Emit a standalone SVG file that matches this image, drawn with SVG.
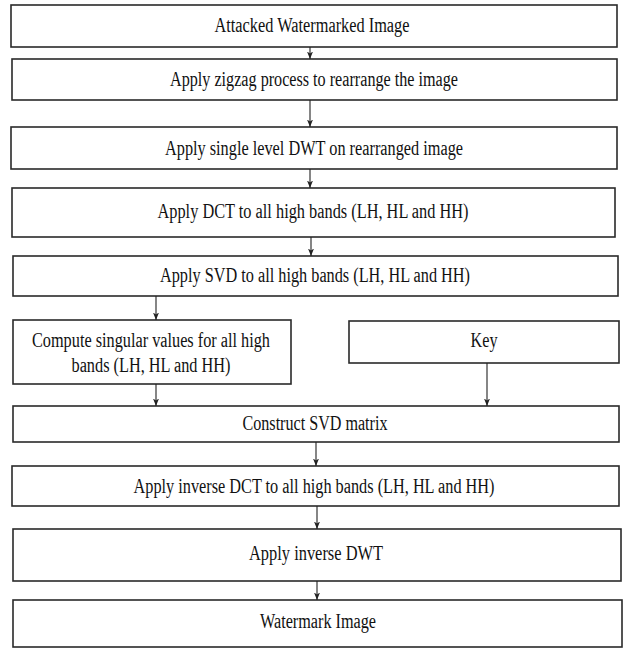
<svg xmlns="http://www.w3.org/2000/svg" width="624" height="648" viewBox="0 0 624 648">
<defs>
<marker id="ah" viewBox="0 0 8 8" refX="7.5" refY="4" markerWidth="8" markerHeight="8" markerUnits="userSpaceOnUse" orient="auto">
<path d="M0,1 L7.5,4 L0,7 L2,4 Z" fill="#222"/>
</marker>
<style>
.box{fill:#fff;stroke:#2a2a2a;stroke-width:1.6}
.t{font-family:"Liberation Serif","Times New Roman",serif;font-size:20px;fill:#111;text-anchor:middle}
.c{fill:none;stroke:#222;stroke-width:1.1;marker-end:url(#ah)}
</style>
</defs>
<rect width="624" height="648" fill="#fff"/>
<g id="n1"><rect class="box" x="11" y="5" width="606" height="42"/><text class="t" x="312" y="32" textLength="195" lengthAdjust="spacingAndGlyphs">Attacked Watermarked Image</text></g>
<g id="n2"><rect class="box" x="12" y="59" width="605" height="41"/><text class="t" x="314" y="86" textLength="288" lengthAdjust="spacingAndGlyphs">Apply zigzag process to rearrange the image</text></g>
<g id="n3"><rect class="box" x="11" y="127" width="606" height="42"/><text class="t" x="314" y="155" textLength="298" lengthAdjust="spacingAndGlyphs">Apply single level DWT on rearranged image</text></g>
<g id="n4"><rect class="box" x="12" y="188" width="603" height="49"/><text class="t" x="313" y="218" textLength="311" lengthAdjust="spacingAndGlyphs">Apply DCT to all high bands (LH, HL and HH)</text></g>
<g id="n5"><rect class="box" x="13" y="256" width="605" height="40"/><text class="t" x="315" y="282" textLength="310" lengthAdjust="spacingAndGlyphs">Apply SVD to all high bands (LH, HL and HH)</text></g>
<g id="n6"><rect class="box" x="13" y="320" width="278" height="64"/><text class="t" x="151" y="347" textLength="238" lengthAdjust="spacingAndGlyphs">Compute singular values for all high</text><text class="t" x="151" y="372" textLength="159" lengthAdjust="spacingAndGlyphs">bands (LH, HL and HH)</text></g>
<g id="n7"><rect class="box" x="349" y="321" width="270" height="42"/><text class="t" x="484" y="347" textLength="27" lengthAdjust="spacingAndGlyphs">Key</text></g>
<g id="n8"><rect class="box" x="13" y="406" width="606" height="36"/><text class="t" x="315" y="430" textLength="145" lengthAdjust="spacingAndGlyphs">Construct SVD matrix</text></g>
<g id="n9"><rect class="box" x="12" y="466" width="607" height="40"/><text class="t" x="314" y="493" textLength="361" lengthAdjust="spacingAndGlyphs">Apply inverse DCT to all high bands (LH, HL and HH)</text></g>
<g id="n10"><rect class="box" x="13" y="529" width="608" height="52"/><text class="t" x="316" y="560" textLength="134" lengthAdjust="spacingAndGlyphs">Apply inverse DWT</text></g>
<g id="n11"><rect class="box" x="13" y="600" width="609" height="47"/><text class="t" x="318" y="628" textLength="116" lengthAdjust="spacingAndGlyphs">Watermark Image</text></g>
<g id="connectors">
<line class="c" x1="310" y1="47" x2="310" y2="59"/>
<line class="c" x1="310" y1="100" x2="310" y2="127"/>
<line class="c" x1="310" y1="169" x2="310" y2="188"/>
<line class="c" x1="311" y1="237" x2="311" y2="256"/>
<line class="c" x1="156" y1="296" x2="156" y2="320"/>
<line class="c" x1="156" y1="384" x2="156" y2="406"/>
<line class="c" x1="487" y1="363" x2="487" y2="406"/>
<line class="c" x1="316" y1="442" x2="316" y2="466"/>
<line class="c" x1="317" y1="506" x2="317" y2="529"/>
<line class="c" x1="317" y1="581" x2="317" y2="600"/>
</g>
</svg>
